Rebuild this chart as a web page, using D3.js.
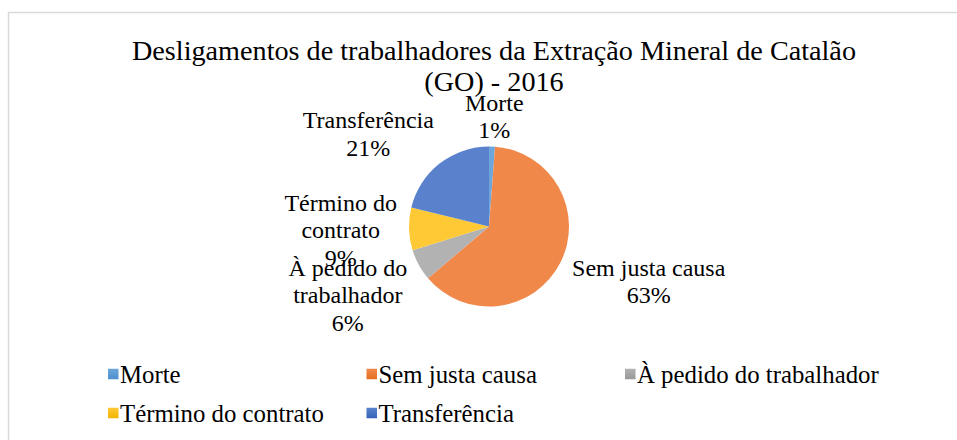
<!DOCTYPE html>
<html>
<head>
<meta charset="utf-8">
<script src="https://cdn.jsdelivr.net/npm/d3@7"></script>
<style>
  body { margin: 0; background: #fff; }
  svg { display: block; font-family: "Liberation Serif", "Times New Roman", serif; }
</style>
</head>
<body>
<div class="chart"></div>
<script>
// categories and values (share of dismissals, %)
var categories = ["Morte", "Sem justa causa", "À pedido do trabalhador", "Término do contrato", "Transferência"];
var values = [1.2, 62.6, 6.4, 8.6, 21.2];
// how each data label breaks into lines
var labelLines = [["Morte"], ["Sem justa causa"], ["À pedido do", "trabalhador"], ["Término do", "contrato"], ["Transferência"]];
var titleLines = ["Desligamentos de trabalhadores da Extração Mineral de Catalão", "(GO) - 2016"];

const width = 957, height = 440;
const cx = 489, cy = 226.5, radius = 80;

// base colours + lighter / darker stops for the office-like shading
var colorList = [
  { base: "#5B9BD5", top: "#6ca6da", bottom: "#4e8fcd" },
  { base: "#ED7D31", top: "#f0884a", bottom: "#e66f1e" },
  { base: "#A5A5A5", top: "#b2b2b2", bottom: "#989898" },
  { base: "#FFC000", top: "#ffc935", bottom: "#f2b500" },
  { base: "#4472C4", top: "#5a82cc", bottom: "#3664ba" },
];

var svg = d3.select(".chart").append("svg")
  .attr("width", width)
  .attr("height", height);

var defs = svg.append("defs");
colorList.forEach((c, i) => {
  var g = defs.append("linearGradient")
    .attr("id", "grad" + i)
    .attr("gradientUnits", "userSpaceOnUse")
    .attr("x1", 0).attr("x2", 0)
    .attr("y1", cy - radius).attr("y2", cy + radius);
  g.append("stop").attr("offset", "0%").attr("stop-color", c.top);
  g.append("stop").attr("offset", "100%").attr("stop-color", c.bottom);
  var lg = defs.append("linearGradient")
    .attr("id", "lgrad" + i)
    .attr("x1", 0).attr("x2", 0).attr("y1", 0).attr("y2", 1);
  lg.append("stop").attr("offset", "0%").attr("stop-color", c.top);
  lg.append("stop").attr("offset", "100%").attr("stop-color", c.bottom);
});

// chart frame (clipped by the window on right/bottom)
svg.append("rect")
  .attr("x", 8.5).attr("y", 12.5)
  .attr("width", 980).attr("height", 460)
  .attr("fill", "none")
  .attr("stroke", "#d9d9d9")
  .attr("stroke-width", 1.5);

// title
svg.append("text")
  .attr("text-anchor", "middle")
  .attr("font-size", 28.2)
  .attr("fill", "#000")
  .selectAll("tspan")
  .data(titleLines)
  .join("tspan")
  .attr("x", 494)
  .attr("y", (d, i) => 59.5 + i * 31)
  .text((d) => d);

// pie
var data = categories.map((c, i) => ({ name: c, value: values[i], lines: labelLines[i], idx: i }));
var total = d3.sum(values);
var pie = d3.pie().sort(null).value((d) => d.value);
var arc = d3.arc().innerRadius(0).outerRadius(radius);
var arcs = pie(data);

var group = svg.append("g").attr("transform", "translate(" + cx + "," + cy + ")");

group.selectAll("path")
  .data(arcs)
  .join("path")
  .attr("d", arc)
  .attr("fill", (d) => "url(#grad" + d.data.idx + ")");

// data labels, placed outside end of each slice
var pct = d3.format(".0%");
const fs = 24, lh = 27.5, padX = 10, padR = 2;
var labels = svg.append("g").attr("font-size", fs).attr("fill", "#000").attr("text-anchor", "middle");

arcs.forEach((a) => {
  var mid = (a.startAngle + a.endAngle) / 2;
  var s = Math.sin(mid), c = Math.cos(mid);
  var lines = a.data.lines.concat([pct(a.data.value / total)]);
  var t = labels.append("text");
  lines.forEach((l) => t.append("tspan").text(l));
  var w = 0;
  t.selectAll("tspan").each(function () { w = Math.max(w, this.getComputedTextLength()); });
  var h = lines.length * lh;
  var ax = cx + (radius + padR) * s;
  var ay = cy - (radius + padR) * c;
  var sx = Math.max(-1, Math.min(1, s * 1.5));
  var sy = Math.max(-1, Math.min(1, -c * 1.5));
  var bx = ax + sx * (w / 2 + padX);
  var by = ay + sy * (h / 2);
  var top = by - h / 2;
  t.selectAll("tspan")
    .attr("x", bx)
    .attr("y", (d, i) => top + 21 + i * lh);
});

// legend
const legX = 108, colW = 258.5, rowY = [374, 413], box = 10.5;
var legend = svg.append("g").attr("font-size", 24.8).attr("fill", "#000");
data.forEach((d, i) => {
  var col = i % 3, row = Math.floor(i / 3);
  var x = legX + col * colW, y = rowY[row];
  legend.append("rect")
    .attr("x", x).attr("y", y - box / 2)
    .attr("width", box).attr("height", box)
    .attr("fill", "url(#lgrad" + i + ")");
  legend.append("text")
    .attr("x", x + box + 1.5)
    .attr("y", y + 8.5)
    .text(d.name);
});
</script>
</body>
</html>
